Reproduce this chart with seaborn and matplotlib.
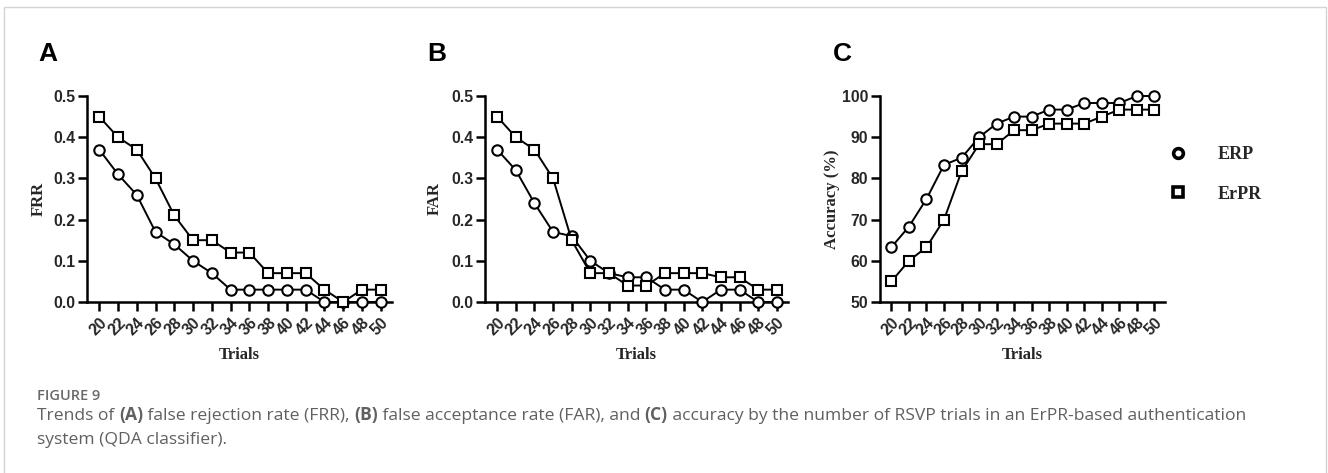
import matplotlib
matplotlib.use("Agg")
import matplotlib.pyplot as plt
import pandas as pd
import seaborn as sns
from matplotlib.lines import Line2D
from matplotlib.patches import Rectangle

# ---------------- data ----------------
trials = [20, 22, 24, 26, 28, 30, 32, 34, 36, 38, 40, 42, 44, 46, 48, 50]

frr_erp = [0.37, 0.31, 0.26, 0.17, 0.14, 0.10, 0.07, 0.03, 0.03, 0.03, 0.03, 0.03, 0.0, 0.0, 0.0, 0.0]
frr_erpr = [0.45, 0.40, 0.37, 0.30, 0.21, 0.15, 0.15, 0.12, 0.12, 0.07, 0.07, 0.07, 0.03, 0.0, 0.03, 0.03]

far_erp = [0.37, 0.32, 0.24, 0.17, 0.16, 0.10, 0.07, 0.06, 0.06, 0.03, 0.03, 0.0, 0.03, 0.03, 0.0, 0.0]
far_erpr = [0.45, 0.40, 0.37, 0.30, 0.15, 0.07, 0.07, 0.04, 0.04, 0.07, 0.07, 0.07, 0.06, 0.06, 0.03, 0.03]

acc_erp = [63.3, 68.3, 75.0, 83.3, 85.0, 90.0, 93.3, 95.0, 95.0, 96.7, 96.7, 98.3, 98.3, 98.3, 100.0, 100.0]
acc_erpr = [55.0, 60.0, 63.3, 70.0, 81.7, 88.3, 88.3, 91.7, 91.7, 93.3, 93.3, 93.3, 95.0, 96.7, 96.7, 96.7]

methods = ["ERP", "ErPR"]
panel_letters = ["A", "B", "C"]
y_labels = ["FRR", "FAR", "Accuracy (%)"]
x_label = "Trials"
rate_ticks = [0.0, 0.1, 0.2, 0.3, 0.4, 0.5]
acc_ticks = [50, 60, 70, 80, 90, 100]

caption_title = "FIGURE 9"
caption_parts = [
    ("Trends of ", "normal"), ("(A)", "bold"), (" false rejection rate (FRR), ", "normal"),
    ("(B)", "bold"), (" false acceptance rate (FAR), and ", "normal"), ("(C)", "bold"),
    (" accuracy by the number of RSVP trials in an ErPR-based authentication", "normal"),
]
caption_line2 = "system (QDA classifier)."

# ---------------- style ----------------
W, H = 1328, 473
sns.set_theme(style="ticks")
plt.rcParams["font.family"] = ["Liberation Sans", "DejaVu Sans"]

fig = plt.figure(figsize=(W / 100, H / 100), dpi=100)
fig.patch.set_facecolor("white")

# light border of the figure card
fig.patches.append(Rectangle((4 / W, -0.05), (1326 - 4) / W, 1.05 - 7 / H,
                             transform=fig.transFigure, fill=False,
                             edgecolor="#d4d4d4", linewidth=1.0))


def px_axes(l, t, r, b):
    return fig.add_axes([l / W, 1 - b / H, (r - l) / W, (b - t) / H])


axes_boxes = [(87, 96, 392, 302), (485, 96, 788, 302), (880, 96, 1165, 302)]
series = [(frr_erp, frr_erpr), (far_erp, far_erpr), (acc_erp, acc_erpr)]
ylims = [(0, 0.5), (0, 0.5), (50, 100)]
yticks = [rate_ticks, rate_ticks, acc_ticks]
ylabel_x = [39, 435, 832]
letter_x = [38, 427, 833]

tick_font = dict(family="Liberation Sans", weight="bold", size=11.3)
label_font = dict(family="Liberation Serif", weight="bold", size=12)

for i, box in enumerate(axes_boxes):
    ax = px_axes(*box)
    erp, erpr = series[i]
    df = pd.DataFrame({
        "Trials": trials + trials,
        "value": list(erp) + list(erpr),
        "Method": [methods[0]] * len(trials) + [methods[1]] * len(trials),
    })
    sns.lineplot(data=df, x="Trials", y="value", hue="Method", style="Method",
                 markers={"ERP": "o", "ErPR": "s"}, dashes=False,
                 palette={"ERP": "black", "ErPR": "black"}, ax=ax, legend=False,
                 linewidth=1.4, markersize=7.5, clip_on=False)
    for ln in ax.lines:
        ln.set_markerfacecolor("white")
        ln.set_markeredgecolor("black")
        ln.set_markeredgewidth(1.5)
        ln.set_zorder(5)
        ln.set_clip_on(False)

    ax.set_xlim(18.7, 51.2)
    ax.set_ylim(*ylims[i])
    ax.set_xticks(trials)
    ax.set_xticklabels([str(t) for t in trials], rotation=45, ha="right",
                       rotation_mode="anchor", **tick_font)
    ax.set_yticks(yticks[i])
    if i < 2:
        ax.set_yticklabels([f"{v:.1f}" for v in yticks[i]], **tick_font)
    else:
        ax.set_yticklabels([str(v) for v in yticks[i]], **tick_font)
    for s in ["top", "right"]:
        ax.spines[s].set_visible(False)
    for s in ["left", "bottom"]:
        ax.spines[s].set_linewidth(1.8)
        ax.spines[s].set_color("black")
    ax.tick_params(axis="both", direction="out", length=6.5, width=1.8, color="black", pad=2)
    ax.tick_params(axis="x", pad=3)
    ax.set_facecolor("white")

    ax.set_ylabel(y_labels[i], va="center", **label_font)
    l, t, r, b = box
    ax.yaxis.set_label_coords((ylabel_x[i] - l) / (r - l), 0.5)
    ax.set_xlabel(x_label, va="center", **label_font)
    ax.xaxis.set_label_coords(0.5, (b - 355) / (b - t))

    # panel letter
    fig.text(letter_x[i] / W, 1 - 61 / H, panel_letters[i], ha="left", va="baseline",
             family="Liberation Sans", weight="bold", size=19, color="black")

# legend
handles = [
    Line2D([], [], marker="o", ls="none", mfc="white", mec="black", mew=2.6, ms=7),
    Line2D([], [], marker="s", ls="none", mfc="white", mec="black", mew=2.6, ms=7),
]
fig.legend(handles, methods, loc="upper left", bbox_to_anchor=(1169 / W, 1 - 146 / H),
           frameon=False, borderpad=0, borderaxespad=0, handlelength=1.0,
           handletextpad=1.7, labelspacing=1.25,
           prop=dict(family="Liberation Serif", weight="bold", size=13))

# caption
cap_color = "#606060"
fig.text(37 / W, 1 - 400 / H, caption_title, ha="left", va="baseline",
         family="Open Sans", weight="semibold", size=10.5, color="#6a6a6a")
fig.canvas.draw()
renderer = fig.canvas.get_renderer()
x = 37
for txt, wt in caption_parts:
    t = fig.text(x / W, 1 - 420 / H, txt, ha="left", va="baseline",
                 family="Open Sans", weight=wt, size=12.6, color=cap_color)
    bb = t.get_window_extent(renderer=renderer)
    x += bb.width
fig.text(37 / W, 1 - 444 / H, caption_line2, ha="left", va="baseline",
         family="Open Sans", weight="normal", size=12.6, color=cap_color)

fig.savefig("out.png", dpi=100, facecolor="white")
